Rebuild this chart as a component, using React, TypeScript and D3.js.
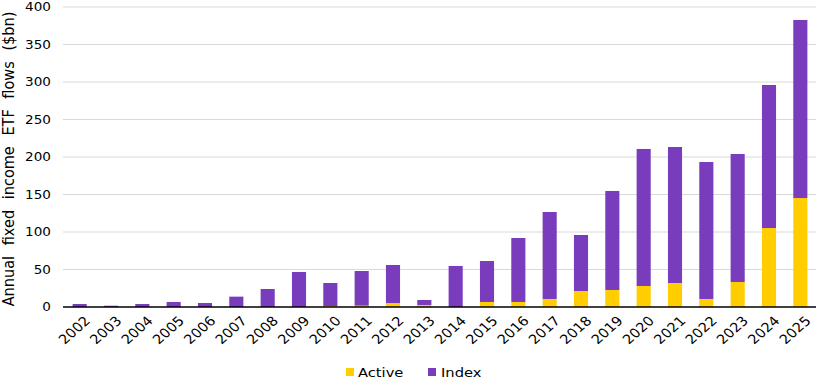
import React from "react";
import * as d3 from "d3";

const years = ["2002","2003","2004","2005","2006","2007","2008","2009","2010","2011","2012","2013","2014","2015","2016","2017","2018","2019","2020","2021","2022","2023","2024","2025"];
const activeFlows = [0,0,0,0,0,0,0,0,1.3,1.8,5.3,2.7,0,6.7,6.7,10.7,21.3,22.7,28,32,10.7,33.3,105.3,145.3];
const totalFlows = [4,1.7,4,6.7,5.3,13.8,24,46.7,32,48,56,9.3,54.7,61.3,92,126.7,96,154.7,210.7,213.3,193.3,204,296,382.7];
const indexFlows = totalFlows.map((t, i) => t - activeFlows[i]);
const yTicks = [0,50,100,150,200,250,300,350,400];
const seriesNames = ["Active","Index"];
const seriesColors = ["#FFCD00","#783CBD"];

const W = 816, H = 380;
const FONT = "'DejaVu Sans', Verdana, sans-serif";
const SX = 1.13;

export default function App() {
  const x = d3.scaleBand().domain(years).range([64, 816]).paddingInner(0.55).paddingOuter(0.275);
  const y = d3.scaleLinear().domain([0, 400]).range([307, 7]);
  const rows = years.map((yr, i) => ({ year: yr, Active: activeFlows[i], Index: indexFlows[i] }));
  const stacked = d3.stack<any>().keys(seriesNames)(rows);

  return (
    <svg width={W} height={H} style={{ position: "absolute", left: 0, top: 0, fontFamily: FONT }}>
      <rect width={W} height={H} fill="#fff" />
      {yTicks.map(t => (
        <g key={t}>
          {t !== 0 && <line x1={63} x2={816} y1={y(t)} y2={y(t)} stroke="#D9D9D9" strokeWidth={1} />}
          <text transform={`translate(51,${y(t)}) scale(${SX},1)`} dy="0.36em" textAnchor="end" fontSize={12} fill="#000">{t}</text>
        </g>
      ))}
      {stacked.map((s, si) => (
        <g key={s.key} fill={seriesColors[si]}>
          {s.map((d, i) => (
            <rect key={i} x={x(years[i])} width={x.bandwidth()} y={y(d[1])} height={Math.max(0, y(d[0]) - y(d[1]))} />
          ))}
        </g>
      ))}
      <line x1={63} x2={816} y1={y(0)} y2={y(0)} stroke="#000" strokeWidth={1.5} />
      {years.map(yr => {
        const cx = (x(yr) as number) + x.bandwidth() / 2 + 4;
        return (
          <text key={yr} transform={`translate(${cx},${315}) scale(${SX},1) rotate(-45)`} textAnchor="end" dy="0.72em" fontSize={13} fill="#000">{yr}</text>
        );
      })}
      <text transform={`translate(14,${159}) scale(${SX},1) rotate(-90)`} textAnchor="middle" fontSize={14.5} fill="#000" wordSpacing={6}>Annual fixed income ETF flows ($bn)</text>
      <g>
        <rect x={346} y={368} width={8} height={8} fill={seriesColors[0]} />
        <text transform={`translate(358,372) scale(${SX},1)`} dy="0.36em" fontSize={13}>Active</text>
        <rect x={428} y={368} width={8} height={8} fill={seriesColors[1]} />
        <text transform={`translate(441,372) scale(${SX},1)`} dy="0.36em" fontSize={13}>Index</text>
      </g>
    </svg>
  );
}
